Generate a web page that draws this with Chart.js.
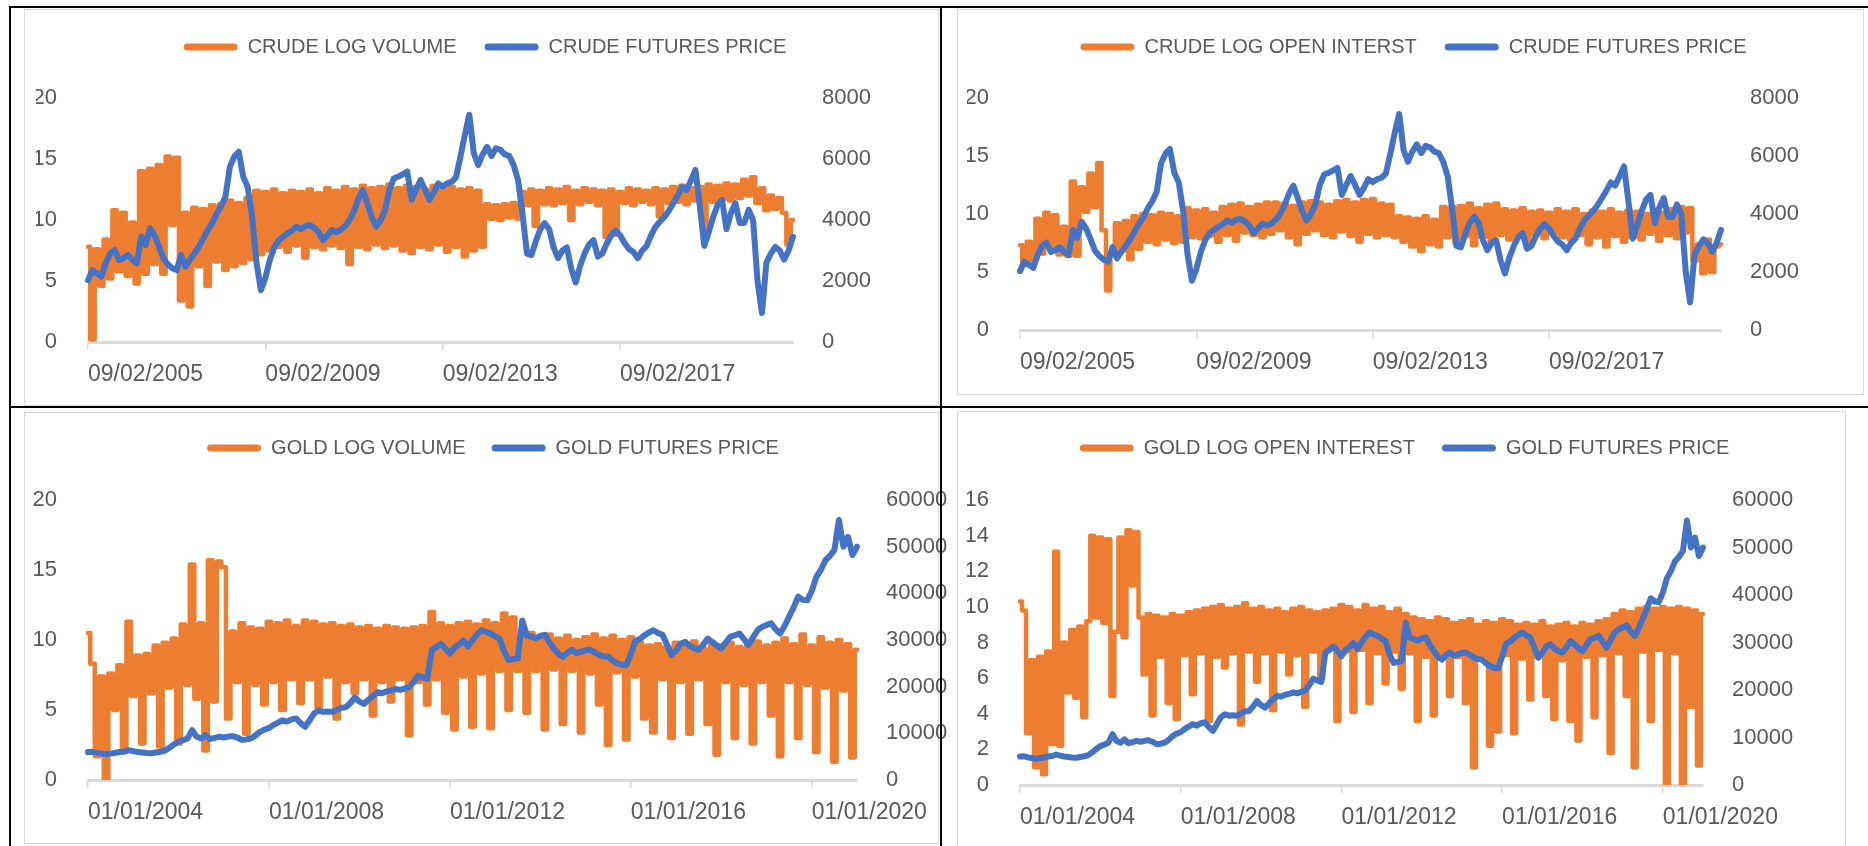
<!DOCTYPE html>
<html>
<head>
<meta charset="utf-8">
<script src="https://cdn.jsdelivr.net/npm/chart.js@4.4.1/dist/chart.umd.min.js"></script>
<style>
  body { margin: 0; background: #fff; width: 1868px; height: 846px; overflow: hidden; position: relative; }
  .frame { position: absolute; box-sizing: border-box; border: 1px solid #d9d9d9; }
  .rule { position: absolute; background: #000; z-index: 5; }
  canvas { position: absolute; }
</style>
</head>
<body>
<div class="frame" style="left:24px;top:9px;width:915px;height:397px"></div>
<div class="frame" style="left:957px;top:9px;width:907px;height:386px"></div>
<div class="frame" style="left:24px;top:412px;width:915px;height:432px"></div>
<div class="frame" style="left:957px;top:411px;width:889px;height:450px"></div>

<canvas id="chart_1" width="914" height="396" style="left:24px;top:9px"></canvas>
<canvas id="chart_2" width="906" height="385" style="left:957px;top:9px"></canvas>
<canvas id="chart_3" width="934" height="431" style="left:24px;top:412px"></canvas>
<canvas id="chart_4" width="888" height="435" style="left:957px;top:411px"></canvas>

<div class="rule" style="left:9px;top:6px;width:1859px;height:2px"></div>
<div class="rule" style="left:9px;top:406px;width:1859px;height:2px"></div>
<div class="rule" style="left:9px;top:6px;width:2px;height:840px"></div>
<div class="rule" style="left:940px;top:6px;width:2px;height:840px"></div>

<script>
// tick labels (one every 40 points)
var tickEvery = 40;
var crudeDateTicks = ["09/02/2005", "09/02/2009", "09/02/2013", "09/02/2017"];
var goldDateTicks = ["01/01/2004", "01/01/2008", "01/01/2012", "01/01/2016", "01/01/2020"];

// crude, 160 points from 02/2005 to end 2020
var crudeLogVolume = [
  7.8, 0.2, 7.6, 4.6, 8.4, 5.2, 10.8, 5.8, 10.6, 5.4,
  9.8, 4.8, 14.0, 5.6, 14.2, 6.4, 14.5, 5.6, 15.2, 9.6,
  15.1, 3.4, 10.6, 2.9, 11.0, 6.2, 10.9, 4.6, 11.2, 6.6,
  11.3, 5.9, 11.6, 6.2, 11.4, 6.5, 11.8, 6.8, 12.4, 7.2,
  12.3, 7.5, 12.5, 7.8, 12.2, 7.4, 12.4, 7.9, 12.3, 6.9,
  12.5, 7.8, 12.2, 7.6, 12.6, 7.9, 12.4, 7.7, 12.7, 6.4,
  12.5, 7.8, 12.8, 7.6, 12.6, 8.0, 12.7, 7.7, 12.9, 7.9,
  12.6, 7.5, 12.8, 7.3, 12.7, 7.8, 12.5, 7.6, 12.8, 8.0,
  12.6, 7.4, 12.7, 7.8, 12.5, 7.0, 12.6, 7.5, 12.4, 7.8,
  11.3, 10.1, 11.2, 10.0, 11.3, 10.2, 11.4, 10.1, 12.3, 11.2,
  12.5, 9.5, 12.4, 11.3, 12.6, 11.2, 12.5, 11.4, 12.7, 10.0,
  12.4, 11.3, 12.6, 11.5, 12.5, 11.2, 12.4, 8.6, 12.5, 8.8,
  12.3, 11.4, 12.6, 11.2, 12.5, 11.5, 12.4, 11.3, 12.6, 10.3,
  12.5, 11.4, 12.7, 11.5, 12.8, 11.3, 12.6, 11.6, 12.7, 9.0,
  12.9, 11.5, 12.8, 11.7, 13.0, 11.6, 12.9, 11.8, 13.3, 12.0,
  13.5, 11.4, 12.6, 10.8, 12.0, 10.9, 11.8, 10.6, 8.0, 10.0
];
var crudeLogOpenInterest = [
  7.3, 5.6, 7.6, 6.0, 9.6, 6.6, 10.1, 7.2, 9.9, 6.5,
  8.9, 6.4, 12.8, 6.4, 12.3, 10.2, 13.5, 10.6, 14.4, 8.6,
  3.4, 6.4, 9.2, 6.8, 9.4, 6.1, 9.8, 7.0, 10.0, 7.6,
  9.9, 7.4, 10.1, 7.8, 10.0, 7.5, 9.8, 7.6, 10.5, 8.0,
  10.3, 7.9, 10.4, 8.1, 10.1, 7.6, 10.6, 8.2, 10.8, 7.7,
  10.9, 8.4, 10.6, 8.2, 10.8, 8.0, 11.0, 8.3, 11.0, 8.6,
  10.9, 8.0, 10.7, 7.4, 11.0, 8.3, 11.1, 8.6, 11.0, 8.2,
  10.8, 8.0, 11.1, 8.5, 11.2, 8.1, 11.0, 7.6, 11.2, 8.3,
  11.3, 8.0, 10.9, 8.2, 10.8, 8.0, 9.8, 7.6, 9.7, 7.2,
  9.6, 6.8, 9.8, 7.4, 9.5, 7.2, 10.6, 8.0, 10.6, 7.5,
  10.7, 8.1, 10.9, 7.3, 10.5, 8.0, 10.8, 7.6, 10.9, 8.2,
  10.4, 7.8, 10.3, 8.0, 10.5, 7.6, 10.2, 8.2, 10.3, 7.9,
  10.1, 8.3, 10.4, 8.0, 10.2, 7.8, 10.4, 8.2, 10.0, 7.4,
  10.3, 8.0, 10.2, 7.2, 10.4, 8.1, 10.1, 7.6, 10.3, 8.0,
  10.2, 7.8, 10.0, 8.3, 10.3, 7.7, 10.1, 8.2, 10.4, 7.9,
  10.6, 8.4, 10.5, 6.0, 7.4, 4.9, 7.8, 5.0, 7.2, 7.4
];
var crudeFuturesPrice = [
  2030, 2360, 2250, 2140, 2580, 2900, 3010, 2690, 2750, 2860,
  2700, 2580, 3460, 3180, 3730, 3500, 3130, 2740, 2550, 2420,
  2360, 2860, 2470, 2700, 2900, 3130, 3400, 3670, 3890, 4200,
  4440, 4770, 5750, 6080, 6240, 5420, 5090, 4110, 2600, 1700,
  2100, 2690, 3100, 3340, 3450, 3560, 3650, 3780, 3700, 3800,
  3830, 3750, 3600, 3340, 3500, 3670, 3600, 3670, 3800, 4000,
  4300, 4700, 4980, 4550, 4100, 3780, 4000, 4330, 5000, 5370,
  5420, 5500, 5590, 4660, 5000, 5310, 5000, 4660, 4900, 5200,
  5100, 5200, 5250, 5400, 6080, 6800, 7450, 6200, 5800, 6150,
  6400, 6100, 6350, 6300, 6150, 6100, 5800, 5300, 4200, 2900,
  2850, 3300, 3700, 3900, 3700, 3100, 2750, 3000, 3100, 2400,
  1950, 2500, 2900, 3200, 3340, 2800, 2900, 3230, 3500, 3650,
  3500, 3250, 3050, 2950, 2750, 3000, 3150, 3500, 3780, 3950,
  4100, 4300, 4550, 4800, 5090, 4980, 5300, 5640, 4440, 3150,
  3600, 4100, 4500, 4660, 3700, 4220, 4550, 3900, 3900, 4330,
  4000, 2000, 950, 2600, 2900, 3120, 3000, 2700, 3000, 3450
];

// gold, 171 points from 01/2004 to early 2021
var goldLogVolume = [
  10.5, 8.3, 1.7, 7.4, 0.0, 7.6, 5.0, 8.2, 2.0, 11.3,
  6.0, 8.9, 2.6, 9.0, 6.2, 9.6, 2.4, 9.8, 6.6, 10.1,
  2.6, 11.1, 6.8, 15.4, 5.8, 11.2, 2.1, 15.7, 5.6, 15.6,
  15.2, 4.4, 10.6, 7.0, 11.2, 3.3, 10.9, 6.8, 10.8, 5.4,
  11.3, 7.0, 11.2, 5.0, 11.4, 7.2, 11.0, 5.5, 11.4, 7.2,
  11.3, 5.2, 11.1, 7.4, 11.2, 4.4, 11.0, 7.0, 11.1, 6.2,
  10.9, 7.2, 11.0, 4.6, 10.8, 7.0, 11.0, 5.6, 10.9, 7.2,
  10.8, 3.2, 10.9, 7.0, 11.0, 5.4, 12.0, 7.2, 11.2, 4.8,
  11.0, 3.6, 11.2, 7.4, 11.3, 3.8, 11.1, 7.6, 11.4, 3.7,
  11.2, 7.8, 11.9, 5.0, 11.6, 7.8, 10.4, 4.8, 10.5, 7.8,
  10.2, 3.6, 10.4, 7.9, 10.1, 4.0, 10.3, 7.8, 10.0, 3.4,
  10.2, 7.6, 10.4, 5.4, 10.1, 2.5, 10.3, 7.7, 10.0, 2.9,
  10.2, 7.4, 9.8, 4.4, 9.6, 3.4, 9.7, 7.2, 9.5, 3.0,
  9.8, 7.0, 9.6, 3.3, 9.9, 7.2, 9.4, 4.0, 9.7, 1.8,
  9.6, 7.0, 9.8, 3.0, 9.5, 6.8, 9.7, 2.6, 9.9, 7.0,
  9.6, 4.6, 9.8, 1.7, 10.1, 7.0, 9.7, 3.0, 10.4, 6.8,
  9.6, 2.0, 10.2, 6.6, 9.8, 1.3, 10.0, 6.4, 9.7, 1.6,
  9.3
];
var goldLogOpenInterest = [
  10.3, 9.8, 2.9, 7.0, 1.0, 7.2, 0.6, 7.5, 2.3, 13.1,
  2.2, 8.0, 5.2, 8.7, 4.9, 8.9, 3.8, 9.2, 14.0, 9.4,
  13.9, 9.1, 13.8, 5.0, 8.6, 13.9, 8.3, 14.3, 11.2, 14.2,
  9.4, 6.2, 9.6, 3.9, 9.5, 7.2, 9.4, 4.6, 9.6, 3.7,
  9.5, 7.3, 9.7, 5.1, 9.8, 7.4, 9.9, 3.6, 10.0, 7.2,
  10.1, 6.6, 9.9, 7.4, 10.0, 3.4, 10.2, 7.5, 9.9, 5.8,
  10.0, 7.4, 9.8, 4.2, 9.9, 7.5, 9.7, 6.2, 9.9, 7.3,
  10.0, 4.4, 9.8, 7.5, 9.7, 6.0, 9.8, 7.6, 9.9, 3.6,
  10.1, 7.5, 10.0, 4.1, 9.8, 7.6, 10.1, 4.6, 9.9, 7.4,
  10.0, 5.7, 9.7, 7.5, 9.9, 5.4, 9.6, 7.4, 9.4, 3.6,
  9.3, 7.2, 9.2, 3.9, 9.4, 7.3, 9.3, 5.0, 9.1, 7.2,
  9.2, 4.6, 9.3, 1.0, 9.0, 7.2, 9.2, 2.2, 9.1, 3.0,
  9.3, 7.3, 9.2, 2.9, 9.0, 7.1, 9.1, 4.8, 9.0, 7.2,
  9.2, 5.0, 8.9, 3.7, 9.0, 7.0, 9.1, 3.6, 8.9, 2.5,
  9.1, 7.2, 9.0, 3.8, 9.2, 7.3, 9.3, 1.8, 9.6, 7.4,
  9.8, 5.0, 9.7, 1.0, 9.9, 7.5, 10.0, 3.6, 9.9, 7.6,
  10.0, 0.0, 9.9, 7.4, 10.0, 0.0, 9.9, 4.4, 9.8, 1.1,
  9.6
];
var goldFuturesPrice = [
  6000, 6050, 5800, 5700, 5500, 5700, 5800, 6000, 6100, 6400,
  6200, 6000, 5900, 5800, 5750, 5900, 6050, 6300, 6900, 7600,
  8200, 8500, 8900, 10700, 9300, 8900, 9600, 8800, 9000, 9300,
  9100, 9300, 9400, 9100, 8600, 8700, 8900, 9500, 10300, 10800,
  11100, 11800, 12300, 12800, 12500, 13000, 13200, 12200, 11400, 12800,
  14300, 14900, 14600, 14700, 14600, 15000, 15500, 15600, 16500, 17700,
  16800, 16300, 17200, 18000, 18800, 18600, 19000, 19200, 19500, 19300,
  19600, 19900, 21000, 22400, 22000, 21700, 27800, 28500, 29200, 28200,
  27100, 28400, 29000, 29900, 28600, 30000, 31200, 32100, 31700, 31400,
  30800, 30300, 27500, 25700, 25900, 26100, 34200, 31000, 30700, 30400,
  30900, 31100, 29500, 28200, 27000, 26400, 27300, 27900, 27200, 27500,
  27800, 27900, 27400, 26800, 26500, 26400, 25600, 25000, 24700, 24600,
  27000, 29800, 30200, 31000, 31600, 32100, 31500, 31100, 29000, 26800,
  27800, 29200, 29600, 28800, 28200, 27900, 29000, 30300, 29600, 28800,
  28200, 29500, 30700, 31000, 31400, 30200, 28900, 30500, 32100, 32800,
  33200, 33600, 32300, 31400, 33000, 35000, 37000, 39300, 38600, 38500,
  40500, 43500, 45000, 47100, 48000, 49300, 55700, 50000, 52100, 48200,
  50000
];

var FONT = "Liberation Sans";
var GREY = "#595959";

// force the legend box to a fixed height so the plot lands where it should
var legendHeight = {
  id: "legendHeight",
  beforeLayout: function (chart, args, opts) {
    var legend = chart.legend;
    if (!legend || legend.$fixed) return;
    var fit = legend.fit;
    legend.fit = function () {
      fit.call(this);
      this.height = opts.height;
    };
    legend.$fixed = true;
  },
};

function makeChart(id, c) {
  var labels = c.orange.map(function (v, i) { return i; });
  var defaultLabels = Chart.defaults.plugins.legend.labels.generateLabels;
  return new Chart(document.getElementById(id), {
    type: "line",
    data: {
      labels: labels,
      datasets: [
        {
          label: c.orangeLabel,
          data: c.orange,
          yAxisID: "y",
          borderColor: "#ed7d31",
          backgroundColor: "#ed7d31",
          borderWidth: 4.5,
          // vertical strokes between the daily highs and lows
          stepped: "middle",
          order: 1,
        },
        {
          label: c.blueLabel,
          data: c.blue,
          yAxisID: "y1",
          borderColor: "#4472c4",
          backgroundColor: "#4472c4",
          borderWidth: 6,
          order: 0,
        },
      ],
    },
    options: {
      responsive: false,
      animation: false,
      events: [],
      elements: {
        point: { radius: 0 },
        line: { tension: 0, borderJoinStyle: "round", borderCapStyle: "round" },
      },
      layout: { padding: { left: c.padL, right: c.padR, top: 0, bottom: 0 } },
      plugins: {
        tooltip: { enabled: false },
        legendHeight: { height: c.legendH },
        legend: {
          display: true,
          position: "top",
          align: "center",
          labels: {
            boxWidth: 54,
            boxHeight: 7,
            padding: c.legendPad,
            color: GREY,
            font: { family: FONT, size: 20 },
            sort: function (a, b) { return a.datasetIndex - b.datasetIndex; },
            generateLabels: function (chart) {
              return defaultLabels(chart).map(function (it) {
                it.lineWidth = 0;
                it.borderRadius = 3.5;
                return it;
              });
            },
          },
        },
      },
      scales: {
        x: {
          type: "category",
          offset: false,
          afterFit: function (s) { s.height = c.xH; },
          border: { display: true, color: "#d9d9d9", width: 3 },
          grid: {
            display: true,
            drawOnChartArea: false,
            drawTicks: true,
            tickLength: 8,
            lineWidth: 1.5,
            color: function (ctx) {
              return ctx.index % tickEvery === 0 ? "#d9d9d9" : "rgba(0,0,0,0)";
            },
          },
          ticks: {
            autoSkip: false,
            maxRotation: 0,
            minRotation: 0,
            align: "start",
            padding: 11,
            color: GREY,
            font: { family: FONT, size: 23 },
            callback: function (value, index) {
              if (index % tickEvery !== 0) return "";
              return c.dateTicks[index / tickEvery] || "";
            },
          },
        },
        y: {
          position: "left",
          min: 0,
          max: c.yMax,
          afterFit: function (s) { s.width = c.yW; },
          grid: { display: false },
          border: { display: false },
          ticks: {
            stepSize: c.yStep, padding: 23, color: GREY, font: { family: FONT, size: 22 },
            callback: function (v) { return String(v); },
          },
        },
        y1: {
          position: "right",
          min: 0,
          max: c.y1Max,
          afterFit: function (s) { s.width = c.y1W; },
          grid: { display: false },
          border: { display: false },
          ticks: {
            stepSize: c.y1Step, padding: 21, color: GREY, font: { family: FONT, size: 22 },
            callback: function (v) { return String(v); },
          },
        },
      },
    },
    plugins: [legendHeight],
  });
}

makeChart("chart_1", {
  orangeLabel: "CRUDE LOG VOLUME", orange: crudeLogVolume,
  blueLabel: "CRUDE FUTURES PRICE", blue: crudeFuturesPrice,
  dateTicks: crudeDateTicks, yMax: 20, yStep: 5, y1Max: 8000, y1Step: 2000,
  padL: 12, padR: 4, yW: 52, y1W: 141, legendH: 89, legendPad: 28, xH: 63,
});

makeChart("chart_2", {
  orangeLabel: "CRUDE LOG OPEN INTERST", orange: crudeLogOpenInterest,
  blueLabel: "CRUDE FUTURES PRICE", blue: crudeFuturesPrice,
  dateTicks: crudeDateTicks, yMax: 20, yStep: 5, y1Max: 8000, y1Step: 2000,
  padL: 10, padR: 3, yW: 53, y1W: 139, legendH: 89, legendPad: 28, xH: 64,
});

makeChart("chart_3", {
  orangeLabel: "GOLD LOG VOLUME", orange: goldLogVolume,
  blueLabel: "GOLD FUTURES PRICE", blue: goldFuturesPrice,
  dateTicks: goldDateTicks, yMax: 20, yStep: 5, y1Max: 60000, y1Step: 10000,
  padL: 4, padR: 0, yW: 60, y1W: 101, legendH: 88, legendPad: 26, xH: 63,
});

makeChart("chart_4", {
  orangeLabel: "GOLD LOG OPEN INTEREST", orange: goldLogOpenInterest,
  blueLabel: "GOLD FUTURES PRICE", blue: goldFuturesPrice,
  dateTicks: goldDateTicks, yMax: 16, yStep: 2, y1Max: 60000, y1Step: 10000,
  padL: 10, padR: 3, yW: 53, y1W: 139, legendH: 89, legendPad: 27, xH: 61,
});
</script>
</body>
</html>
